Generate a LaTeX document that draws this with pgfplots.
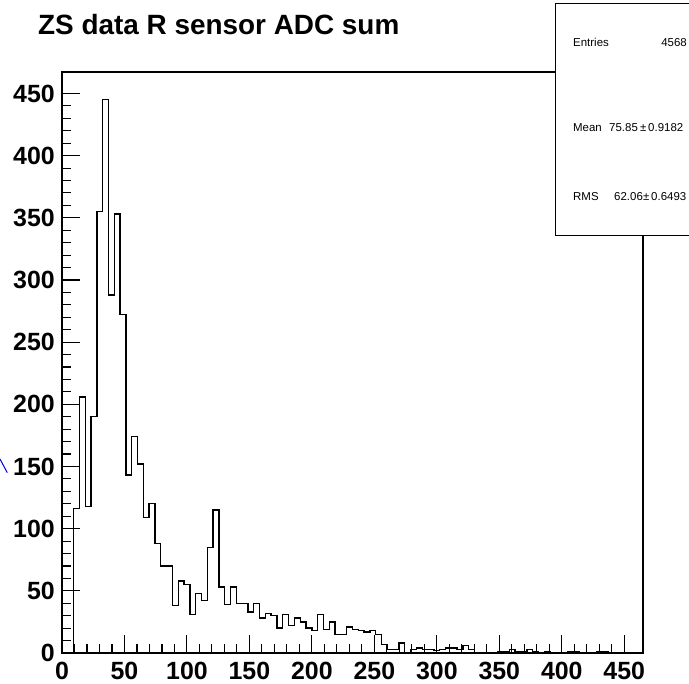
\documentclass[border=0pt]{standalone}
\usepackage{fontspec}
\setmainfont{Liberation Sans}
\usepackage{pgfplots}
\pgfplotsset{compat=1.18}
\usepackage{pgfplotstable}
\pgfplotstableread{
x y
0 0
4.65 0
9.3 116
13.95 206
18.6 118
23.25 190
27.9 355
32.55 445
37.2 288
41.85 353
46.5 272
51.15 143
55.8 174
60.45 152
65.1 109
69.75 120
74.4 88
79.05 70
83.7 70
88.35 38
93 58
97.65 55
102.3 31
106.95 48
111.6 42
116.25 85
120.9 115
125.55 53
130.2 39
134.85 53
139.5 40
144.15 40
148.8 33
153.45 40
158.1 28
162.75 32
167.4 30
172.05 20
176.7 31
181.35 22
186 28
190.65 25
195.3 20
199.95 18
204.6 31
209.25 19
213.9 25
218.55 15
223.2 15
227.85 21
232.5 19
237.15 18
241.8 17
246.45 18
251.1 15
255.75 7
260.4 3
265.05 3
269.7 8
274.35 0
279 3
283.65 4
288.3 3
292.95 3
297.6 2
302.25 3
306.9 4
311.55 4
316.2 3
320.85 6
325.5 3
330.15 0
334.8 0
339.45 0
344.1 0
348.75 1
353.4 1
358.05 3
362.7 1
367.35 1
372 3
376.65 1
381.3 0
385.95 1
390.6 0
395.25 0
399.9 0
404.55 1
409.2 1
413.85 0
418.5 0
423.15 0
427.8 1
432.45 1
437.1 0
441.75 0
446.4 0
451.05 0
455.7 0
460.35 0
465 0
}\histdata

\begin{document}
\begin{tikzpicture}
\useasboundingbox (-62bp,-31bp) rectangle (627bp,653bp);
\begin{axis}[
  scale only axis, width=581bp, height=581bp,
  xmin=0, xmax=465, ymin=0, ymax=467.25,
  axis line style={line width=1.3bp},
  tick pos=left, tick align=inside,
  xtick={0,50,...,450}, ytick={0,50,...,450},
  minor tick num=4,
  major tick length=18bp, minor tick length=9bp,
  every tick/.append style={black, line width=1.1bp},
  every minor tick/.append style={black, line width=1.1bp},
  ticklabel style={font=\fontsize{25}{30}\selectfont\bfseries},
  /pgf/number format/assume math mode=true,
  xticklabel style={anchor=north, inner sep=0pt, yshift=-9bp},
  yticklabel style={anchor=east, inner sep=0pt, xshift=-7bp},
]
\addplot[const plot, black, line width=1.4bp] table {\histdata};
\end{axis}
\node[anchor=base west, font=\fontsize{28}{34}\selectfont\bfseries, inner sep=0pt] at (-24bp,618bp) {ZS data R sensor ADC sum};
\draw[fill=white, line width=1bp] (493bp,417bp) rectangle (720bp,649.7bp);
\begin{scope}[every node/.style={anchor=base west, inner sep=0pt, font=\fontsize{11.5}{13}\selectfont}]
\node at (511bp,606.5bp) {Entries};
\node[anchor=base east] at (625bp,606.5bp) {4568};
\node at (511bp,521.3bp) {Mean};
\node at (547bp,521.3bp) {75.85};
\node at (578bp,521.3bp) {\char"00B1};
\node at (586bp,521.3bp) {0.9182};
\node at (511bp,452bp) {RMS};
\node at (552bp,452bp) {62.06};
\node at (581bp,452bp) {\char"00B1};
\node at (589bp,452bp) {0.6493};
\end{scope}
\draw[blue!85!black, line width=1bp] (-62bp,194bp) -- (-54.7bp,180.3bp);
\end{tikzpicture}
\end{document}
